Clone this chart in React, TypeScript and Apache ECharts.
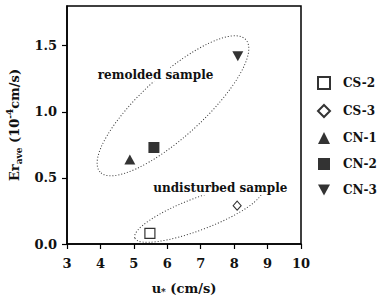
import React, { useEffect, useRef } from "react";
import * as echarts from "echarts";

// Series data [u*, Er_ave]
const seriesNames = ["CS-2", "CS-3", "CN-1", "CN-2", "CN-3"];
const cs2 = [[5.48, 0.08]];
const cs3 = [[8.09, 0.29]];
const cn1 = [[4.88, 0.64]];
const cn2 = [[5.6, 0.73]];
const cn3 = [[8.11, 1.42]];

// Ellipses: [x1, y1, x2, y2, semi-minor(px)] major-axis tips in data coords
const ellipses = [
  [3.99, 0.545, 8.35, 1.545, 31],
  [5.03, 0.045, 8.83, 0.41, 16],
];
// Annotation labels: [x, y, text]
const labels: [number, number, string][] = [
  [3.86, 1.28, "remolded sample"],
  [5.52, 0.424, "undisturbed sample"],
];

const xTicks = { min: 3, max: 10, interval: 1 };
const yTicks = { min: 0, max: 1.8, interval: 0.5 };

const FONT = "DejaVu Serif";

export default function App() {
  const ref = useRef<HTMLDivElement>(null);
  useEffect(() => {
    if (!ref.current) return;
    const chart = echarts.init(ref.current, null, { renderer: "svg" });
    const txt = { fontFamily: FONT, color: "#111", fontSize: 13 };
    chart.setOption({
      animation: false,
      backgroundColor: "#fff",
      grid: {
        left: 67,
        right: 79,
        top: 6,
        bottom: 52,
        outerBoundsMode: "none",
        containLabel: false,
        show: true,
        borderColor: "#000",
        borderWidth: 1.5,
        backgroundColor: "transparent",
      },
      xAxis: {
        type: "value",
        min: xTicks.min,
        max: xTicks.max,
        interval: xTicks.interval,
        splitLine: { show: false },
        axisLine: { lineStyle: { color: "#000", width: 1.5 } },
        axisTick: { inside: false, length: 5, lineStyle: { color: "#000", width: 1.2 } },
        axisLabel: { ...txt, margin: 13, fontWeight: "bold" },
        name: "{m|u}{s|*}{m| (cm/s)}",
        nameLocation: "middle",
        nameGap: 36,
        nameTextStyle: {
          rich: {
            m: { ...txt, fontWeight: "bold", lineHeight: 16 },
            s: { ...txt, fontSize: 9, fontWeight: "bold", verticalAlign: "bottom", lineHeight: 16 },
          },
        },
      },
      yAxis: {
        type: "value",
        min: yTicks.min,
        max: yTicks.max,
        interval: yTicks.interval,
        splitLine: { show: false },
        axisLine: { lineStyle: { color: "#000", width: 1.5 } },
        axisTick: { inside: false, length: 5, lineStyle: { color: "#000", width: 1.2 } },
        axisLabel: {
          ...txt,
          margin: 10,
          fontWeight: "bold",
          showMaxLabel: false,
          formatter: (v: number) => v.toFixed(1),
        },
        name: "{m|Er}{s|ave}{m| (10}{p|-4}{m|cm/s)}",
        nameLocation: "middle",
        nameRotate: 90,
        nameGap: 35,
        nameTextStyle: {
          rich: {
            m: { ...txt, fontWeight: "bold", lineHeight: 18 },
            s: { ...txt, fontSize: 9, fontWeight: "bold", verticalAlign: "bottom", lineHeight: 18 },
            p: { ...txt, fontSize: 9, fontWeight: "bold", verticalAlign: "top", lineHeight: 18 },
          },
        },
      },
      legend: {
        orient: "vertical",
        left: 312,
        top: 71,
        width: 68,
        itemGap: 14,
        itemWidth: 12,
        itemHeight: 12,
        data: seriesNames,
        textStyle: { ...txt, fontSize: 12, fontWeight: "bold", padding: [0, 0, 0, 8] },
      },
      series: [
        {
          type: "custom",
          silent: true,
          data: ellipses,
          renderItem: (params: any, api: any) => {
            const p1 = api.coord([api.value(0), api.value(1)]);
            const p2 = api.coord([api.value(2), api.value(3)]);
            const cx = (p1[0] + p2[0]) / 2;
            const cy = (p1[1] + p2[1]) / 2;
            const rx = Math.hypot(p2[0] - p1[0], p2[1] - p1[1]) / 2;
            const ang = Math.atan2(-(p2[1] - p1[1]), p2[0] - p1[0]);
            return {
              type: "ellipse",
              x: cx,
              y: cy,
              rotation: ang,
              shape: { cx: 0, cy: 0, rx, ry: api.value(4) },
              style: { fill: "none", stroke: "#333", lineWidth: 1, lineDash: [1, 2] },
            };
          },
          z: 1,
        },
        {
          type: "custom",
          silent: true,
          data: labels,
          renderItem: (params: any, api: any) => {
            const p = api.coord([api.value(0), api.value(1)]);
            return {
              type: "text",
              x: p[0],
              y: p[1],
              style: {
                text: labels[params.dataIndex][2],
                fontFamily: FONT,
                fontSize: 12,
                fontWeight: "bold",
                fill: "#111",
                verticalAlign: "middle",
                align: "left",
                backgroundColor: "#fff",
                padding: [1, 2],
              },
            };
          },
          z: 3,
        },
        {
          name: "CS-2",
          type: "scatter",
          data: cs2,
          symbol: "rect",
          symbolSize: 10,
          itemStyle: { color: "#fff", borderColor: "#000", borderWidth: 1.2 },
          z: 4,
        },
        {
          name: "CS-3",
          type: "scatter",
          data: cs3,
          symbol: "diamond",
          symbolSize: [8, 9],
          itemStyle: { color: "#fff", borderColor: "#000", borderWidth: 1.1 },
          z: 4,
        },
        {
          name: "CN-1",
          type: "scatter",
          data: cn1,
          symbol: "triangle",
          symbolSize: [11, 10],
          itemStyle: { color: "#000" },
          z: 4,
        },
        {
          name: "CN-2",
          type: "scatter",
          data: cn2,
          symbol: "rect",
          symbolSize: 11,
          itemStyle: { color: "#000" },
          z: 4,
        },
        {
          name: "CN-3",
          type: "scatter",
          data: cn3,
          symbol: "path://M0,0 L10,0 L5,9 Z",
          symbolSize: [11, 10],
          itemStyle: { color: "#000" },
          z: 4,
        },
      ],
    });
    return () => chart.dispose();
  }, []);
  return <div ref={ref} style={{ width: 380, height: 296, position: "absolute", left: 0, top: 0 }} />;
}
